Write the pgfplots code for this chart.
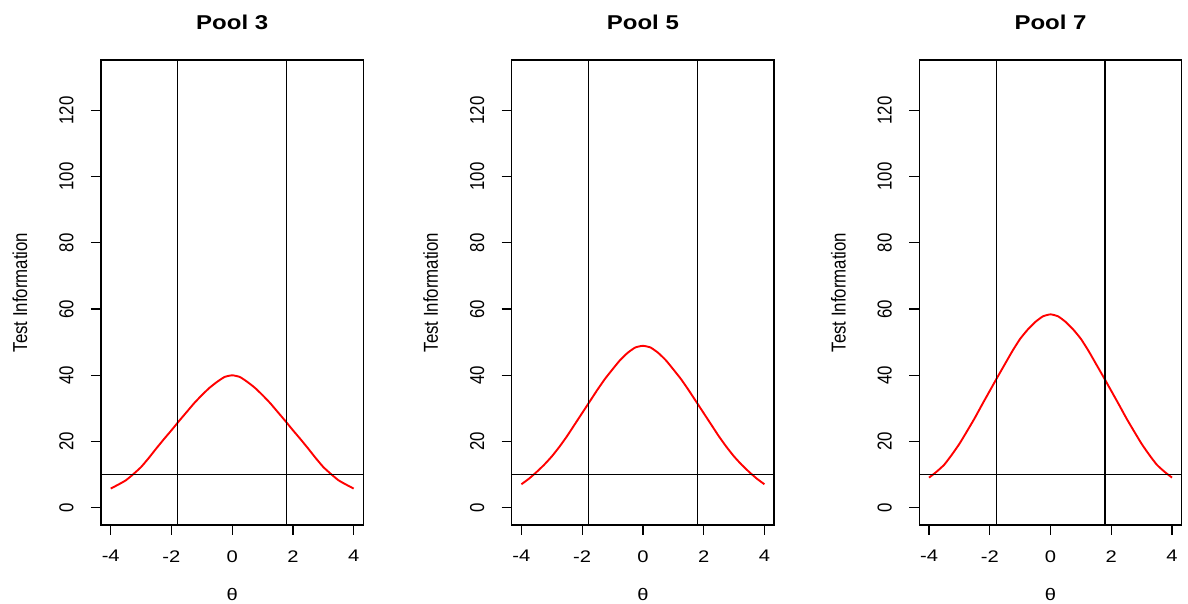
\documentclass[border=0pt]{standalone}
\usepackage{fontspec}
\setmainfont{Liberation Sans}[FakeStretch=1.2]
\newfontfamily\plainfont{Liberation Sans}
\usepackage{graphicx}
\usepackage{pgfplots}
\pgfplotsset{compat=1.18}
\newcommand{\ys}[1]{\scalebox{1}[1.2]{#1}}
\pgfplotsset{
  poolaxis/.style={
    scale only axis, width=131.2pt, height=232.5pt,
    xmin=-4.32, xmax=4.32, ymin=-5.2, ymax=135.2,
    axis line style={line width=0.65pt},
    tick style={black, line width=0.65pt},
    tick align=outside, major tick length=5pt,
    xtick pos=left, ytick pos=left,
    xtick={-4,-2,0,2,4}, xticklabels={-4,-2,0,2,4},
    ytick={0,20,40,60,80,100,120},
    yticklabels={\ys{0},\ys{20},\ys{40},\ys{60},\ys{80},\ys{100},\ys{120}},
    xticklabel style={font=\fontsize{8.4pt}{10pt}\selectfont, anchor=north, inner sep=0pt},
    xticklabel shift=7.5pt,
    yticklabel style={font=\fontsize{8.4pt}{10pt}\selectfont\plainfont, rotate=90, anchor=south, inner sep=0pt},
    yticklabel shift=8.5pt,
    every axis title/.style={at={(axis description cs:0.5,1)}, anchor=base, yshift=15.35pt,
      font=\fontsize{10pt}{12pt}\selectfont\bfseries},
    every axis x label/.style={at={(axis description cs:0.5,0)}, anchor=base, yshift=-38pt,
      font=\fontsize{8.4pt}{10pt}\selectfont},
    every axis y label/.style={at={(axis description cs:-0.3087,0.5)}, anchor=center, rotate=90,
      font=\fontsize{8.4pt}{10pt}\selectfont\plainfont},
    xlabel={θ},
    ylabel={\ys{Test Information}},
    clip=true,
  },
  curve/.style={red, line width=0.95pt, smooth, tension=0.3, mark=none},
  refline/.style={black, line width=0.65pt, mark=none},
}
\begin{document}
\begin{tikzpicture}
\useasboundingbox (0,0) rectangle (594pt,302pt);
\fill[white] (0,0) rectangle (594pt,302pt);
% Pool 3
\begin{axis}[poolaxis, at={(50.5pt,39.5pt)}, anchor=south west, title={Pool 3}]
\addplot[curve] coordinates {(-4,5.8) (-3.75,7.0) (-3.5,8.3) (-3.25,10.2) (-3,12.3) (-2.75,15.0) (-2.5,17.9) (-2.25,20.7) (-2,23.4) (-1.75,26.2) (-1.5,28.9) (-1.25,31.6) (-1,34.0) (-0.75,36.2) (-0.5,38.0) (-0.25,39.5) (0,40.0) (0.25,39.5) (0.5,38.0) (0.75,36.2) (1,34.0) (1.25,31.6) (1.5,28.9) (1.75,26.2) (2,23.4) (2.25,20.7) (2.5,17.9) (2.75,15.0) (3,12.3) (3.25,10.2) (3.5,8.3) (3.75,7.0) (4,5.8)};
\addplot[refline] coordinates {(-5,10) (5,10)};
\addplot[refline] coordinates {(-1.79,-10) (-1.79,140)};
\addplot[refline] coordinates {(1.79,-10) (1.79,140)};
\end{axis}
% Pool 5
\begin{axis}[poolaxis, at={(255.85pt,39.5pt)}, anchor=south west, title={Pool 5}]
\addplot[curve] coordinates {(-4,7.1) (-3.75,8.8) (-3.5,10.8) (-3.25,13.0) (-3,15.5) (-2.75,18.4) (-2.5,21.6) (-2.25,25.1) (-2,28.6) (-1.75,32.1) (-1.5,35.6) (-1.25,38.9) (-1,41.8) (-0.75,44.6) (-0.5,46.8) (-0.25,48.4) (0,48.9) (0.25,48.4) (0.5,46.8) (0.75,44.6) (1,41.8) (1.25,38.9) (1.5,35.6) (1.75,32.1) (2,28.6) (2.25,25.1) (2.5,21.6) (2.75,18.4) (3,15.5) (3.25,13.0) (3.5,10.8) (3.75,8.8) (4,7.1)};
\addplot[refline] coordinates {(-5,10) (5,10)};
\addplot[refline] coordinates {(-1.79,-10) (-1.79,140)};
\addplot[refline] coordinates {(1.79,-10) (1.79,140)};
\end{axis}
% Pool 7
\begin{axis}[poolaxis, at={(459.65pt,39.5pt)}, anchor=south west, title={Pool 7}]
\addplot[curve] coordinates {(-4,9.1) (-3.75,10.9) (-3.5,13.0) (-3.25,16.0) (-3,19.3) (-2.75,23.1) (-2.5,27.0) (-2.25,31.2) (-2,35.3) (-1.75,39.4) (-1.5,43.4) (-1.25,47.4) (-1,51.0) (-0.75,53.8) (-0.5,56.1) (-0.25,57.8) (0,58.4) (0.25,57.8) (0.5,56.1) (0.75,53.8) (1,51.0) (1.25,47.4) (1.5,43.4) (1.75,39.4) (2,35.3) (2.25,31.2) (2.5,27.0) (2.75,23.1) (3,19.3) (3.25,16.0) (3.5,13.0) (3.75,10.9) (4,9.1)};
\addplot[refline] coordinates {(-5,10) (5,10)};
\addplot[refline] coordinates {(-1.79,-10) (-1.79,140)};
\addplot[refline] coordinates {(1.79,-10) (1.79,140)};
\end{axis}
\end{tikzpicture}
\end{document}
